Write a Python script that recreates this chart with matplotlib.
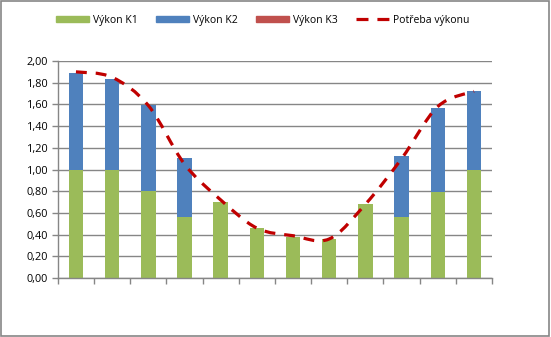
import matplotlib.pyplot as plt
from matplotlib.path import Path
from matplotlib.patches import PathPatch, Patch
from matplotlib.lines import Line2D
from matplotlib.ticker import FuncFormatter, MultipleLocator

plt.rcParams['font.family'] = ['Open Sans', 'DejaVu Sans']

vykon_k1 = [1.00, 1.00, 0.80, 0.56, 0.70, 0.46, 0.38, 0.36, 0.68, 0.56, 0.79, 1.00]
vykon_k2 = [0.89, 0.83, 0.79, 0.55, 0.00, 0.00, 0.00, 0.00, 0.00, 0.56, 0.78, 0.72]
vykon_k3 = [0.0] * 12
potreba = [1.90, 1.85, 1.59, 1.05, 0.72, 0.46, 0.39, 0.36, 0.68, 1.10, 1.58, 1.72]

GREEN = '#9BBB59'
BLUE = '#4F81BD'
RED = '#C0504D'
DARKRED = '#C00000'
GRID = '#868686'

fig = plt.figure(figsize=(5.51, 3.37), dpi=100)
ax = fig.add_axes([0.105, 0.175, 0.788, 0.644])

x = list(range(len(vykon_k1)))
bottom2 = vykon_k1
bottom3 = [a + b for a, b in zip(vykon_k1, vykon_k2)]
ax.bar(x, vykon_k1, width=0.4, color=GREEN, zorder=2)
ax.bar(x, vykon_k2, width=0.4, bottom=bottom2, color=BLUE, zorder=2)
ax.bar(x, vykon_k3, width=0.4, bottom=bottom3, color=RED, zorder=2)

# smoothed demand curve (bezier segments through the points)
pts = list(zip(x, potreba))
verts = [pts[0]]
codes = [Path.MOVETO]
n = len(pts)
for i in range(n - 1):
    p0 = pts[max(i - 1, 0)]
    p1 = pts[i]
    p2 = pts[i + 1]
    p3 = pts[min(i + 2, n - 1)]
    c1 = (p1[0] + (p2[0] - p0[0]) / 6, p1[1] + (p2[1] - p0[1]) / 6)
    c2 = (p2[0] - (p3[0] - p1[0]) / 6, p2[1] - (p3[1] - p1[1]) / 6)
    verts += [c1, c2, p2]
    codes += [Path.CURVE4] * 3
curve = PathPatch(Path(verts, codes), facecolor='none', edgecolor=DARKRED,
                  lw=2.3, linestyle=(0, (3.4, 2.8)), zorder=3, capstyle='butt')
ax.add_patch(curve)

ax.set_xlim(-0.5, len(x) - 0.5)
ax.set_ylim(0, 2.0)
ax.yaxis.set_major_locator(MultipleLocator(0.2))
ax.yaxis.set_major_formatter(FuncFormatter(lambda v, p: f'{v:.2f}'.replace('.', ',')))
ax.set_xticks([i - 0.5 for i in range(len(x) + 1)])
ax.set_xticklabels([])
ax.grid(axis='y', color=GRID, lw=1, zorder=0)
ax.set_axisbelow(True)
for s in ['top', 'right']:
    ax.spines[s].set_visible(False)
for s in ['left', 'bottom']:
    ax.spines[s].set_color(GRID)
    ax.spines[s].set_linewidth(1)
ax.tick_params(axis='both', color=GRID, length=4, width=1, labelsize=7.8, pad=3)

handles = [Patch(color=GREEN), Patch(color=BLUE), Patch(color=RED),
           Line2D([], [], color=DARKRED, lw=2.3, linestyle=(0, (3.75, 2.8)),
                  dash_capstyle='butt')]
labels = ['Výkon K1', 'Výkon K2', 'Výkon K3', 'Potřeba výkonu']
fig.legend(handles, labels, loc='center', bbox_to_anchor=(0.477, 0.94), ncol=4,
           frameon=False, fontsize=7.5, handlelength=3.2, handleheight=0.5,
           handletextpad=0.4, columnspacing=1.7)

fig.patches.append(plt.Rectangle((0.001, 0.002), 0.996, 0.996, transform=fig.transFigure,
                                 fill=False, edgecolor=GRID, lw=1.2))

fig.savefig('out.png', dpi=100)
